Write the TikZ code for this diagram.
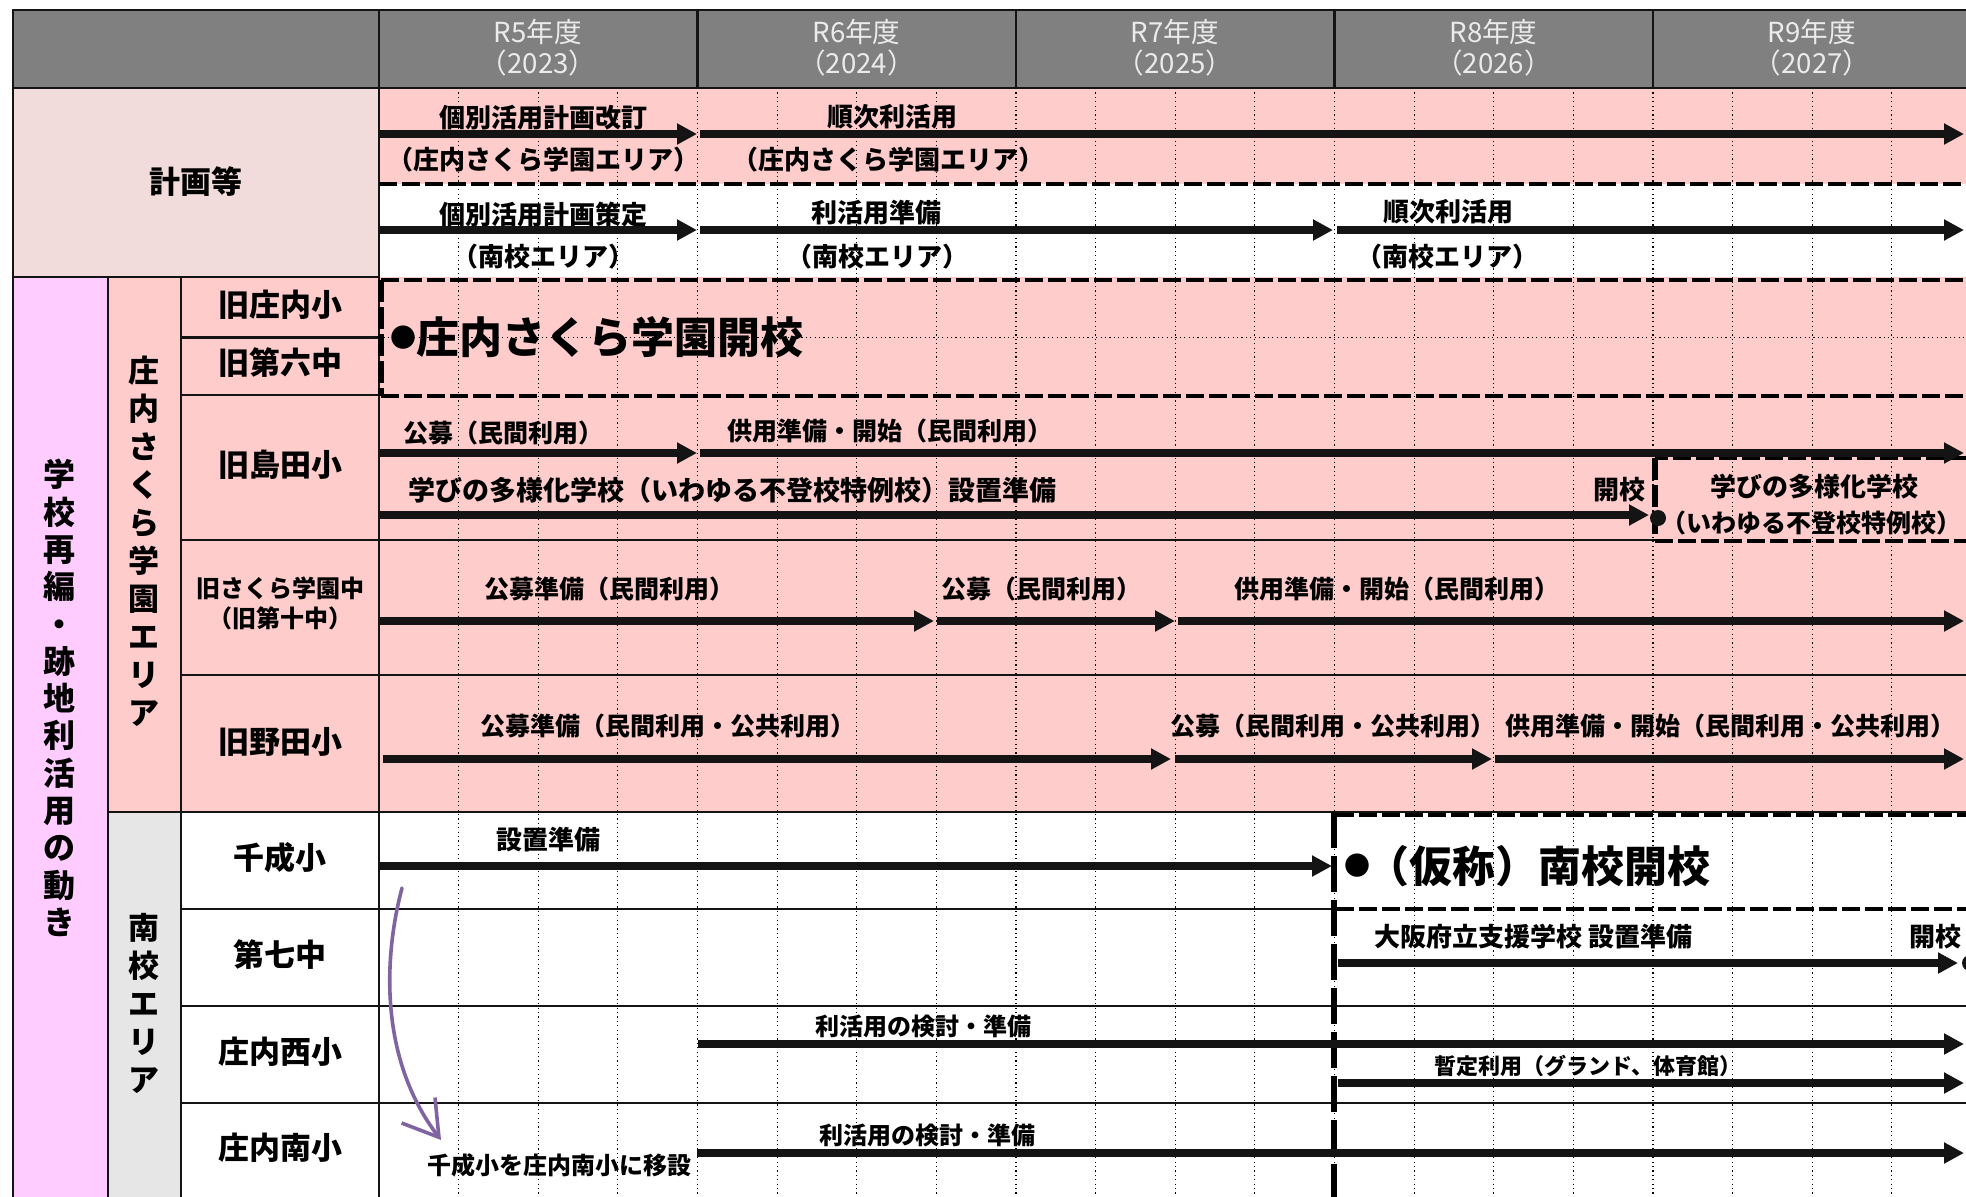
\documentclass[tikz,border=0pt]{standalone}
\usepackage{fontspec}
\setmainfont{Noto Sans CJK JP}
\usetikzlibrary{arrows.meta}
\definecolor{hdrgray}{RGB}{128,128,128}
\definecolor{planbg}{RGB}{242,220,219}
\definecolor{pinkbg}{RGB}{255,204,204}
\definecolor{violetbg}{RGB}{255,204,255}
\definecolor{lightgr}{RGB}{230,230,230}
\definecolor{purp}{RGB}{128,100,162}
\definecolor{hdrtxt}{RGB}{235,235,235}
\definecolor{inkblk}{RGB}{20,20,20}
\begin{document}
\begin{tikzpicture}[x=0.5pt,y=-0.5pt,
  gridln/.style={line width=1.4pt, inkblk},
  thinln/.style={line width=1pt, inkblk},
  dotgrid/.style={line width=0.6pt, dash pattern=on 0.6pt off 1.6pt, black},
  dashh/.style={line width=2.2pt, dash pattern=on 9pt off 2.5pt, black},
  dashv/.style={line width=2.6pt, dash pattern=on 11pt off 2.5pt, black},
  dashlong/.style={line width=2.6pt, dash pattern=on 18pt off 4pt, black},
  arr/.style={line width=3.8pt, inkblk, -{Triangle[length=10pt,width=10pt]}},
  lblA/.style={font=\bfseries\fontsize{13pt}{15pt}\selectfont, inner sep=0pt},
  lblA2/.style={font=\bfseries\fontsize{12.5pt}{15pt}\selectfont, inner sep=0pt},
  lblB/.style={font=\bfseries\fontsize{12.5pt}{15pt}\selectfont, inner sep=0pt},
  lblBig/.style={font=\bfseries\fontsize{13.5pt}{15pt}\selectfont, inner sep=0pt},
  lblC/.style={font=\bfseries\fontsize{12pt}{14pt}\selectfont, inner sep=0pt},
  lblD/.style={font=\bfseries\fontsize{11pt}{13pt}\selectfont, inner sep=0pt},
  namelbl/.style={font=\bfseries\fontsize{15.5pt}{18pt}\selectfont, inner sep=0pt},
  namesm/.style={font=\bfseries\fontsize{12pt}{15pt}\selectfont, inner sep=0pt, align=center},
  bigl/.style={font=\bfseries\fontsize{21.5pt}{24pt}\selectfont, inner sep=0pt},
  vtxt/.style={font=\bfseries\fontsize{16pt}{18.65pt}\selectfont, inner sep=0pt, align=center},
  vtxtb/.style={font=\bfseries\fontsize{15.5pt}{19pt}\selectfont, inner sep=0pt, align=center},
  hdr/.style={font=\fontsize{13.8pt}{15.8pt}\selectfont, text=hdrtxt, inner sep=0pt, align=center}
]
\useasboundingbox (0,0) rectangle (1966,1196);
\clip (0,0) rectangle (1966,1196);
% ---------- fills
\fill[white] (0,0) rectangle (1966,1196);
\fill[hdrgray] (13,10) rectangle (1990,88);
\fill[planbg] (13,88) rectangle (379,277);
\fill[pinkbg] (379,88) rectangle (1990,184);
\fill[violetbg] (13,277) rectangle (108,1210);
\fill[pinkbg] (108,277) rectangle (1990,812);
\fill[lightgr] (108,812) rectangle (181,1210);
% ---------- dotted grid
\foreach \k in {1,...,19} \draw[dotgrid] ({379+79.625*\k},88) -- ({379+79.625*\k},1210);
\draw[dotgrid] (379,337.7) -- (1990,337.7);
% ---------- solid table lines
\draw[gridln] (13,1210) -- (13,10) -- (1990,10);
\draw[gridln] (13,88) -- (1990,88);
\foreach \x in {379,697.5,1016,1334.5,1653} \draw[gridln] (\x,10) -- (\x,88);
\draw[gridln] (379,88) -- (379,1210);
\draw[gridln] (13,277) -- (379,277);
\draw[gridln] (108,277) -- (108,1210);
\draw[gridln] (181,277) -- (181,1210);
\draw[gridln] (181,337.7) -- (379,337.7);
\draw[gridln] (181,395) -- (379,395);
\draw[gridln] (181,540) -- (379,540);
\draw[thinln] (379,540) -- (1655,540);
\draw[gridln] (181,675) -- (379,675);
\draw[thinln] (379,675) -- (1990,675);
\draw[gridln] (108,812) -- (1990,812);
\draw[gridln] (181,909) -- (379,909);
\draw[thinln] (379,909) -- (1334,909);
\draw[gridln] (181,1006) -- (379,1006);
\draw[thinln] (379,1006) -- (1990,1006);
\draw[gridln] (181,1103) -- (379,1103);
\draw[thinln] (379,1103) -- (1990,1103);
% ---------- dashed lines and boxes
\draw[dashh] (379,184) -- (1990,184);
\draw[dashh] (381,280) -- (1990,280);
\draw[dashh] (381,396) -- (1990,396);
\draw[dashv] (381,280) -- (381,396);
\draw[dashh] (1990,458) -- (1655,458);
\draw[dashv] (1655,458) -- (1655,541);
\draw[dashh] (1655,541) -- (1990,541);
\draw[dashh] (1336,815) -- (1990,815);
\draw[dashh] (1336,909) -- (1990,909);
\draw[dashlong] (1334,812) -- (1334,1210);
% ---------- header
\node[hdr] (y5) at (538,47.5) {R5年度\\（2023）};
\node[hdr] (y6) at (856.5,47.5) {R6年度\\（2024）};
\node[hdr] (y7) at (1175,47.5) {R7年度\\（2025）};
\node[hdr] (y8) at (1493.5,47.5) {R8年度\\（2026）};
\node[hdr] (y9) at (1812,47.5) {R9年度\\（2027）};
% ---------- left columns
\node[namelbl] (keikaku) at (196,182) {計画等};
\node[vtxt] (vmain) at (59,698) {学\\校\\再\\編\\・\\跡\\地\\利\\活\\用\\の\\動\\き};
\node[vtxtb] (varea1) at (144,541) {庄\\内\\さ\\く\\ら\\学\\園\\エ\\リ\\ア};
\node[vtxtb] (varea2) at (144,1003) {南\\校\\エ\\リ\\ア};
\node[namelbl] (n1) at (280,305) {旧庄内小};
\node[namelbl] (n2) at (280,363) {旧第六中};
\node[namelbl] (n3) at (280,465) {旧島田小};
\node[namesm] (n4) at (280,603) {旧さくら学園中\\（旧第十中）};
\node[namelbl] (n5) at (280,742) {旧野田小};
\node[namelbl] (n6) at (280,858) {千成小};
\node[namelbl] (n7) at (280,955) {第七中};
\node[namelbl] (n8) at (280,1052) {庄内西小};
\node[namelbl] (n9) at (280,1148) {庄内南小};
% ---------- plan rows
\node[lblA] (p1a) at (543.5,118) {個別活用計画改訂};
\node[lblA] (p1b) at (543.5,160) {（庄内さくら学園エリア）};
\node[lblA] (p1c) at (892,117) {順次利活用};
\node[lblA] (p1d) at (888,160) {（庄内さくら学園エリア）};
\node[lblA] (p2a) at (543.5,215) {個別活用計画策定};
\node[lblA] (p2b) at (543.5,257) {（南校エリア）};
\node[lblA] (p2c) at (876,213) {利活用準備};
\node[lblA] (p2d) at (877,257) {（南校エリア）};
\node[lblA] (p2e) at (1448,212) {順次利活用};
\node[lblA] (p2f) at (1447,257) {（南校エリア）};
\draw[arr] (379,134) -- (697,134);
\draw[arr] (700,134) -- (1964,134);
\draw[arr] (379,230) -- (697,230);
\draw[arr] (700,230) -- (1333,230);
\draw[arr] (1337,230) -- (1964,230);
% ---------- sakura gakuen
\node[bigl, anchor=west] (kaiko1) at (390,337) {\raisebox{3.2pt}{\fontsize{13pt}{13pt}\selectfont ●}庄内さくら学園開校};
% shimada
\node[lblB] (s1) at (503.5,433) {公募（民間利用）};
\node[lblB] (s2) at (890,431) {供用準備・開始（民間利用）};
\node[lblBig, anchor=west] (s3) at (408,490) {学びの多様化学校（いわゆる不登校特例校）設置準備};
\node[lblA, anchor=east] (s4) at (1646,490) {開校};
\node[lblA] (s5) at (1814,487) {学びの多様化学校};
\node[lblA2] (s6) at (1811,523) {（いわゆる不登校特例校）};
\draw[arr] (379,453) -- (697,453);
\draw[arr] (700,453) -- (1964,453);
\draw[arr] (379,515) -- (1649,515);
\fill[inkblk] (1658,518) circle [radius=8];
% sakura chu
\node[lblB] (c1) at (609,589) {公募準備（民間利用）};
\node[lblB] (c2) at (1041,589) {公募（民間利用）};
\node[lblB] (c3) at (1397,589) {供用準備・開始（民間利用）};
\draw[arr] (379,621) -- (934,621);
\draw[arr] (937,621) -- (1175,621);
\draw[arr] (1178,621) -- (1964,621);
% noda
\node[lblB] (d1) at (668,726) {公募準備（民間利用・公共利用）};
\node[lblB] (d2) at (1333,726) {公募（民間利用・公共利用）};
\node[lblB] (d3) at (1730,726) {供用準備・開始（民間利用・公共利用）};
\draw[arr] (383,759) -- (1171,759);
\draw[arr] (1175,759) -- (1492,759);
\draw[arr] (1495,759) -- (1964,759);
% ---------- south
\node[lblA] (m1) at (548,840) {設置準備};
\draw[arr] (379,866) -- (1332,866);
\node[bigl, anchor=west] (kaiko2) at (1344,866) {\raisebox{3.2pt}{\fontsize{13pt}{13pt}\selectfont ●}\hspace{-2pt}（仮称）南校開校};
\node[lblA, anchor=west] (m2) at (1374,937) {大阪府立支援学校 設置準備};
\node[lblA] (m3) at (1935,937) {開校};
\draw[arr] (1338,963) -- (1958,963);
\fill[inkblk] (1970,963) circle [radius=8];
\node[lblC] (m4) at (923,1026) {利活用の検討・準備};
\draw[arr] (698,1044) -- (1964,1044);
\node[lblD] (m5) at (1588,1066) {暫定利用（グランド、体育館）};
\draw[arr] (1338,1083) -- (1964,1083);
\node[lblC] (m6) at (927,1135) {利活用の検討・準備};
\draw[arr] (697,1153) -- (1964,1153);
\node[lblC] (m7) at (559,1165) {千成小を庄内南小に移設};
% purple relocation arrow
\coordinate (mvs) at (402,888);
\coordinate (mve) at (441,1140);
\draw[purp, line width=1.8pt, line cap=round, -{Straight Barb[length=17pt,width=21pt]}] (mvs) .. controls (383,960) and (380,1060) .. (mve);
\end{tikzpicture}
\end{document}
